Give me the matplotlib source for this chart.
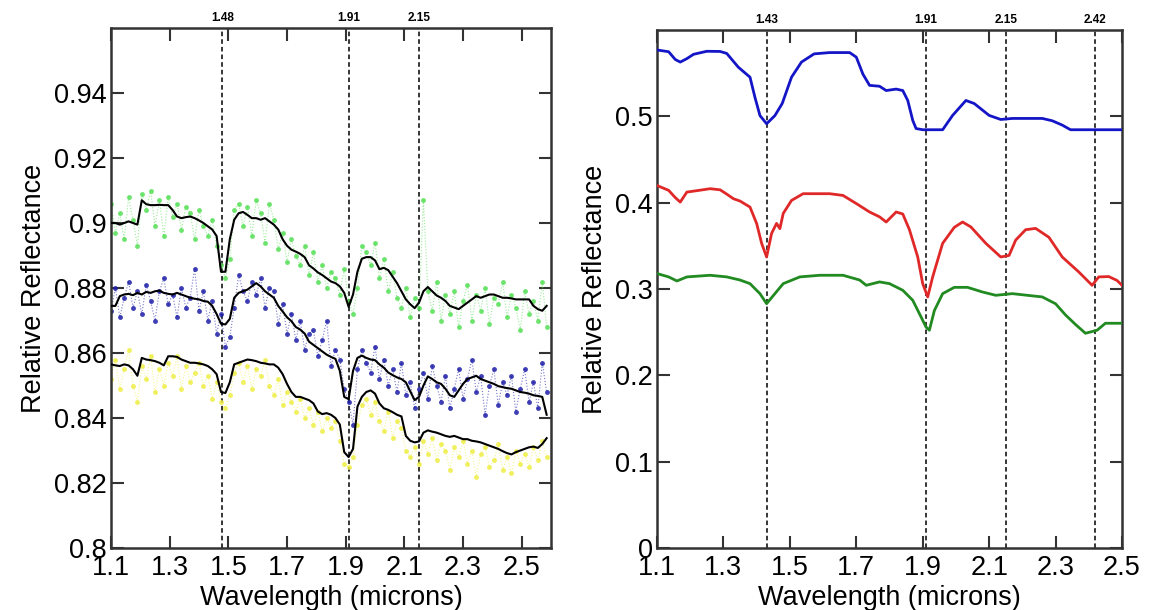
import matplotlib
matplotlib.use('Agg')
import matplotlib.pyplot as plt
import matplotlib.transforms as mtransforms

plt.rcParams['font.family'] = ['Liberation Sans', 'DejaVu Sans']

# left panel: noisy samples + smoothed black fits, shared wavelength grid
wl_pts = [1.100, 1.115, 1.130, 1.145, 1.160, 1.175, 1.190, 1.205, 1.220, 1.235,
          1.250, 1.265, 1.280, 1.295, 1.310, 1.325, 1.340, 1.355, 1.370, 1.385,
          1.400, 1.415, 1.430, 1.445, 1.460, 1.475, 1.490, 1.505, 1.520, 1.535,
          1.550, 1.565, 1.580, 1.595, 1.610, 1.625, 1.640, 1.655, 1.670, 1.685,
          1.700, 1.715, 1.730, 1.745, 1.760, 1.775, 1.790, 1.805, 1.820, 1.835,
          1.850, 1.865, 1.880, 1.895, 1.910, 1.925, 1.940, 1.955, 1.970, 1.985,
          2.000, 2.015, 2.030, 2.045, 2.060, 2.075, 2.090, 2.105, 2.120, 2.135,
          2.150, 2.165, 2.180, 2.195, 2.210, 2.225, 2.240, 2.255, 2.270, 2.285,
          2.300, 2.315, 2.330, 2.345, 2.360, 2.375, 2.390, 2.405, 2.420, 2.435,
          2.450, 2.465, 2.480, 2.495, 2.510, 2.525, 2.540, 2.555, 2.570, 2.585]

green_pts = [0.906, 0.897, 0.903, 0.895, 0.908, 0.901, 0.893, 0.909, 0.904, 0.910,
             0.899, 0.907, 0.896, 0.908, 0.902, 0.906, 0.898, 0.905, 0.903, 0.895,
             0.904, 0.899, 0.896, 0.901, 0.893, 0.887, 0.883, 0.889, 0.904, 0.906,
             0.899, 0.905, 0.896, 0.907, 0.903, 0.894, 0.906, 0.901, 0.892, 0.897,
             0.888, 0.895, 0.890, 0.887, 0.893, 0.884, 0.891, 0.882, 0.887, 0.880,
             0.885, 0.883, 0.878, 0.886, 0.876, 0.872, 0.880, 0.893, 0.891, 0.887,
             0.894, 0.883, 0.889, 0.879, 0.885, 0.877, 0.874, 0.880, 0.871, 0.877,
             0.874, 0.907, 0.879, 0.873, 0.882, 0.870, 0.878, 0.872, 0.879, 0.868,
             0.876, 0.881, 0.870, 0.878, 0.873, 0.880, 0.869, 0.877, 0.875, 0.882,
             0.871, 0.878, 0.874, 0.867, 0.879, 0.872, 0.876, 0.870, 0.882, 0.868]
green_fit = [0.9000, 0.9000, 0.8995, 0.9000, 0.9005, 0.9000, 0.8995, 0.9070, 0.9058, 0.9055,
             0.9055, 0.9056, 0.9055, 0.9055, 0.9040, 0.9020, 0.9015, 0.9018, 0.9020, 0.9015,
             0.9008, 0.9000, 0.8990, 0.8980, 0.8960, 0.8850, 0.8850, 0.8950, 0.9010, 0.9030,
             0.9034, 0.9025, 0.9015, 0.9015, 0.9010, 0.9015, 0.9005, 0.8995, 0.8980, 0.8950,
             0.8930, 0.8918, 0.8912, 0.8905, 0.8895, 0.8870, 0.8860, 0.8848, 0.8840, 0.8830,
             0.8820, 0.8815, 0.8805, 0.8785, 0.8742, 0.8780, 0.8850, 0.8890, 0.8895, 0.8895,
             0.8885, 0.8858, 0.8862, 0.8855, 0.8835, 0.8815, 0.8790, 0.8765, 0.8750, 0.8738,
             0.8755, 0.8790, 0.8803, 0.8790, 0.8777, 0.8770, 0.8760, 0.8745, 0.8740, 0.8735,
             0.8745, 0.8755, 0.8765, 0.8775, 0.8770, 0.8775, 0.8780, 0.8780, 0.8775, 0.8770,
             0.8770, 0.8768, 0.8765, 0.8765, 0.8765, 0.8765, 0.8745, 0.8735, 0.8730, 0.8745]

blue_pts = [0.873, 0.880, 0.871, 0.877, 0.882, 0.874, 0.879, 0.872, 0.881, 0.876,
            0.870, 0.879, 0.883, 0.875, 0.878, 0.871, 0.880, 0.874, 0.877, 0.886,
            0.873, 0.879, 0.870, 0.876, 0.866, 0.872, 0.862, 0.865, 0.874, 0.884,
            0.879, 0.876, 0.882, 0.878, 0.883, 0.874, 0.880, 0.879, 0.869, 0.875,
            0.866, 0.872, 0.864, 0.870, 0.861, 0.866, 0.867, 0.859, 0.864, 0.870,
            0.856, 0.861, 0.858, 0.849, 0.845, 0.838, 0.855, 0.861, 0.857, 0.854,
            0.862, 0.852, 0.858, 0.850, 0.855, 0.848, 0.857, 0.847, 0.851, 0.843,
            0.849, 0.854, 0.846, 0.856, 0.850, 0.845, 0.853, 0.843, 0.849, 0.855,
            0.846, 0.852, 0.858, 0.848, 0.853, 0.841, 0.850, 0.855, 0.844, 0.851,
            0.847, 0.853, 0.842, 0.849, 0.855, 0.845, 0.851, 0.843, 0.857, 0.848]
blue_fit = [0.8745, 0.8745, 0.8775, 0.8780, 0.8782, 0.8778, 0.8785, 0.8780, 0.8788, 0.8785,
            0.8790, 0.8792, 0.8785, 0.8782, 0.8780, 0.8785, 0.8780, 0.8775, 0.8770, 0.8767,
            0.8765, 0.8760, 0.8758, 0.8745, 0.8720, 0.8690, 0.8688, 0.8705, 0.8770, 0.8785,
            0.8790, 0.8795, 0.8805, 0.8815, 0.8805, 0.8790, 0.8780, 0.8770, 0.8745, 0.8728,
            0.8710, 0.8698, 0.8680, 0.8672, 0.8660, 0.8635, 0.8625, 0.8615, 0.8605, 0.8595,
            0.8588, 0.8582, 0.8545, 0.8465, 0.8458, 0.8545, 0.8585, 0.8592, 0.8585, 0.8580,
            0.8578, 0.8565, 0.8555, 0.8540, 0.8532, 0.8525, 0.8520, 0.8510, 0.8482, 0.8455,
            0.8465, 0.8500, 0.8528, 0.8520, 0.8510, 0.8505, 0.8490, 0.8470, 0.8465, 0.8485,
            0.8505, 0.8520, 0.8525, 0.8530, 0.8520, 0.8515, 0.8510, 0.8505, 0.8498, 0.8495,
            0.8492, 0.8490, 0.8485, 0.8480, 0.8478, 0.8475, 0.8470, 0.8468, 0.8465, 0.8410]

yellow_pts = [0.852, 0.858, 0.849, 0.855, 0.861, 0.850, 0.845, 0.856, 0.852, 0.859,
              0.848, 0.855, 0.850, 0.857, 0.853, 0.859, 0.849, 0.856, 0.851, 0.854,
              0.857, 0.850, 0.853, 0.846, 0.851, 0.845, 0.843, 0.847, 0.854, 0.857,
              0.851, 0.856, 0.849, 0.855, 0.853, 0.858, 0.850, 0.847, 0.852, 0.844,
              0.848, 0.845, 0.842, 0.846, 0.840, 0.843, 0.838, 0.842, 0.836, 0.840,
              0.837, 0.839, 0.833, 0.826, 0.825, 0.828, 0.838, 0.844, 0.846, 0.841,
              0.845, 0.839, 0.836, 0.842, 0.834, 0.839, 0.837, 0.830, 0.828, 0.831,
              0.826, 0.833, 0.829, 0.834, 0.827, 0.832, 0.830, 0.824, 0.831, 0.828,
              0.833, 0.826, 0.830, 0.822, 0.829, 0.831, 0.825, 0.827, 0.832, 0.824,
              0.828, 0.823, 0.830, 0.826, 0.829, 0.825, 0.831, 0.827, 0.833, 0.828]
yellow_fit = [0.8565, 0.8562, 0.8560, 0.8565, 0.8562, 0.8550, 0.8530, 0.8585, 0.8580, 0.8578,
              0.8575, 0.8570, 0.8562, 0.8590, 0.8590, 0.8588, 0.8580, 0.8575, 0.8570, 0.8570,
              0.8568, 0.8565, 0.8560, 0.8550, 0.8535, 0.8480, 0.8477, 0.8510, 0.8565, 0.8570,
              0.8575, 0.8580, 0.8578, 0.8575, 0.8570, 0.8568, 0.8565, 0.8565, 0.8555, 0.8535,
              0.8505, 0.8480, 0.8465, 0.8465, 0.8460, 0.8455, 0.8445, 0.8420, 0.8412, 0.8415,
              0.8410, 0.8400, 0.8380, 0.8295, 0.8280, 0.8305, 0.8435, 0.8465, 0.8480, 0.8485,
              0.8475, 0.8445, 0.8430, 0.8425, 0.8418, 0.8410, 0.8405, 0.8345, 0.8330, 0.8325,
              0.8328, 0.8355, 0.8362, 0.8358, 0.8355, 0.8350, 0.8345, 0.8342, 0.8345, 0.8340,
              0.8335, 0.8335, 0.8330, 0.8328, 0.8325, 0.8320, 0.8315, 0.8310, 0.8305, 0.8298,
              0.8292, 0.8288, 0.8295, 0.8300, 0.8305, 0.8310, 0.8312, 0.8308, 0.8320, 0.8338]

left_bands = [1.48, 1.91, 2.15]

# right panel: three smooth spectra
wl_blue = [1.10, 1.135, 1.155, 1.17, 1.19, 1.21, 1.25, 1.29, 1.31, 1.345,
           1.38, 1.395, 1.41, 1.43, 1.455, 1.477, 1.505, 1.535, 1.573, 1.62,
           1.68, 1.70, 1.72, 1.74, 1.77, 1.79, 1.82, 1.84, 1.855, 1.87,
           1.88, 1.90, 1.96, 1.99, 2.03, 2.055, 2.10, 2.135, 2.17, 2.26,
           2.29, 2.32, 2.345, 2.37, 2.50]
val_blue = [0.577, 0.575, 0.566, 0.563, 0.567, 0.572, 0.5755, 0.5753, 0.573, 0.557,
            0.5455, 0.522, 0.501, 0.4915, 0.501, 0.515, 0.5455, 0.563, 0.5725, 0.574,
            0.574, 0.5687, 0.549, 0.536, 0.535, 0.530, 0.5317, 0.530, 0.5185, 0.4954,
            0.486, 0.4846, 0.4846, 0.5012, 0.5185, 0.515, 0.5012, 0.4965, 0.4977, 0.4977,
            0.495, 0.490, 0.4846, 0.4846, 0.4846]

wl_red = [1.10, 1.135, 1.155, 1.17, 1.19, 1.22, 1.26, 1.29, 1.31, 1.33,
          1.35, 1.38, 1.40, 1.415, 1.43, 1.445, 1.46, 1.47, 1.48, 1.505,
          1.54, 1.62, 1.66, 1.70, 1.74, 1.77, 1.79, 1.82, 1.84, 1.86,
          1.885, 1.90, 1.915, 1.93, 1.96, 1.995, 2.02, 2.045, 2.09, 2.135,
          2.16, 2.18, 2.21, 2.24, 2.28, 2.32, 2.37, 2.41, 2.43, 2.46,
          2.485, 2.50]
val_red = [0.420, 0.4144, 0.406, 0.4008, 0.4124, 0.414, 0.4163, 0.415, 0.410, 0.4047,
           0.402, 0.395, 0.376, 0.353, 0.3372, 0.3645, 0.3761, 0.370, 0.3876, 0.4027,
           0.4105, 0.4105, 0.4085, 0.3991, 0.3893, 0.3837, 0.3777, 0.3893, 0.387, 0.3688,
           0.3372, 0.3063, 0.2909, 0.3141, 0.353, 0.3715, 0.3777, 0.372, 0.353, 0.3372,
           0.339, 0.3568, 0.3688, 0.3703, 0.360, 0.3372, 0.3198, 0.3044, 0.3141, 0.3145,
           0.310, 0.3044]

wl_green = [1.10, 1.135, 1.16, 1.19, 1.26, 1.31, 1.35, 1.38, 1.41, 1.43,
            1.455, 1.48, 1.53, 1.59, 1.66, 1.71, 1.73, 1.77, 1.80, 1.84,
            1.87, 1.89, 1.91, 1.92, 1.935, 1.96, 1.995, 2.035, 2.08, 2.12,
            2.17, 2.21, 2.26, 2.30, 2.33, 2.36, 2.39, 2.425, 2.45, 2.50]
val_green = [0.318, 0.3141, 0.3094, 0.3141, 0.316, 0.3141, 0.3105, 0.3063, 0.2947, 0.2831,
             0.2947, 0.3063, 0.3141, 0.316, 0.316, 0.3105, 0.3044, 0.3083, 0.3063, 0.2986,
             0.287, 0.2716, 0.256, 0.2523, 0.275, 0.2947, 0.302, 0.302, 0.2966, 0.2928,
             0.2947, 0.293, 0.2909, 0.283, 0.270, 0.259, 0.2488, 0.2523, 0.2604, 0.2604]

right_bands = [1.43, 1.91, 2.15, 2.42]

x_ticks = [1.1, 1.3, 1.5, 1.7, 1.9, 2.1, 2.3, 2.5]
left_yticks = [0.8, 0.82, 0.84, 0.86, 0.88, 0.9, 0.92, 0.94]
right_yticks = [0, 0.1, 0.2, 0.3, 0.4, 0.5]

SPINE = '#333333'
FS = 19.5


def style_axes(ax, yticks):
    ax.set_xticks(x_ticks)
    ax.set_xticklabels([f'{t:g}' for t in x_ticks])
    ax.set_yticks(yticks)
    ax.set_yticklabels([f'{t:g}' for t in yticks])
    ax.tick_params(direction='in', top=True, right=True, length=9, width=1.5,
                   colors=SPINE, labelcolor='black', labelsize=FS)
    ax.tick_params(axis='x', pad=5)
    ax.tick_params(axis='y', pad=3)
    for sp in ax.spines.values():
        sp.set_linewidth(1.8)
        sp.set_color(SPINE)
    ax.set_xlabel('Wavelength (microns)', fontsize=FS, labelpad=3)
    ax.set_ylabel('Relative Reflectance', fontsize=FS, labelpad=5)


def mark_bands(ax, bands):
    trans = mtransforms.blended_transform_factory(ax.transData, ax.transAxes)
    for b in bands:
        ax.axvline(b, color='black', ls=(0, (3, 2)), lw=1.1, zorder=1)
        ax.text(b, 1.008, f'{b:.2f}', transform=trans, ha='center', va='bottom',
                fontsize=8.5, fontweight='bold')


fig = plt.figure(figsize=(11.49, 6.10), dpi=100)
ax1 = fig.add_axes([0.0966, 0.1016, 0.383, 0.8525])
ax2 = fig.add_axes([0.5718, 0.1016, 0.4047, 0.849])

# noisy samples joined by faint dotted lines
for pts, col in [(green_pts, '#55e055'), (blue_pts, '#1c1ca8'), (yellow_pts, '#eeee44')]:
    ax1.plot(wl_pts, pts, ls=':', lw=0.8, color=col, alpha=0.6, zorder=2)
    ax1.plot(wl_pts, pts, ls='none', marker='o', ms=3.5, mec='none', mfc=col,
             alpha=0.85, zorder=2)
for fit in [green_fit, blue_fit, yellow_fit]:
    ax1.plot(wl_pts, fit, color='black', lw=1.5, zorder=3)
mark_bands(ax1, left_bands)
ax1.set_xlim(1.1, 2.6)
ax1.set_ylim(0.8, 0.96)
style_axes(ax1, left_yticks)

ax2.plot(wl_blue, val_blue, color='#1515c8', lw=2.0, zorder=3)
ax2.plot(wl_red, val_red, color='#e02828', lw=2.0, zorder=3)
ax2.plot(wl_green, val_green, color='#218a21', lw=2.0, zorder=3)
mark_bands(ax2, right_bands)
ax2.set_xlim(1.1, 2.5)
ax2.set_ylim(0, 0.6)
style_axes(ax2, right_yticks)

plt.savefig('out.png', dpi=100)
